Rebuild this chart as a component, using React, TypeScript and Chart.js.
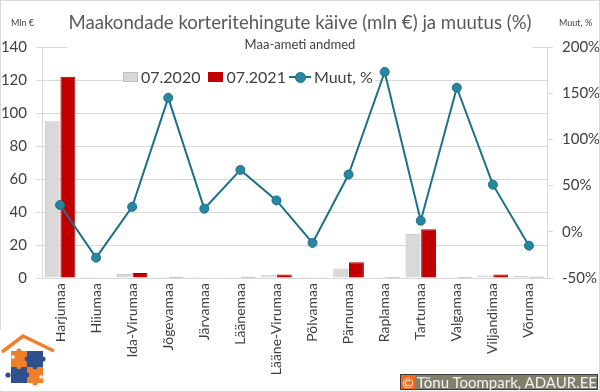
import React, { useEffect, useRef } from "react";
import { Chart, registerables } from "chart.js";

Chart.register(...registerables);

const categories = ["Harjumaa", "Hiiumaa", "Ida-Virumaa", "Jõgevamaa", "Järvamaa", "Läänemaa", "Lääne-Virumaa", "Põlvamaa", "Pärnumaa", "Raplamaa", "Tartumaa", "Valgamaa", "Viljandimaa", "Võrumaa"];
const turnover2020 = [95, 0.7, 2.6, 0.6, 0.7, 0.5, 1.6, 0.6, 5.8, 0.4, 26.8, 0.4, 1.5, 1.3];
const turnover2021 = [122, 0.4, 3.0, 0.8, 0.3, 0.8, 2.1, 0.4, 9.5, 0.6, 29.6, 0.6, 2.1, 0.8];
const changePct = [29, -28, 27, 145, 25, 67, 34, -12, 62, 173, 12, 156, 51, -15];

const label2020 = "07.2020";
const label2021 = "07.2021";
const labelChange = "Muut, %";

const FONT = "Lato, 'Open Sans', sans-serif";
const GRID = "#D9D9D9";
const GREY = "#D9D9D9";
const RED = "#C00000";
const TEAL = "#1B7189";
const TEAL_FILL = "#2A85A0";

function Logo() {
  return (
    <svg width={56} height={60} style={{ position: "absolute", left: 0, top: 330, background: "#fff" }} viewBox="0 0 56 60">
      <polyline points="2,22 23,6 54,21" fill="none" stroke="#F07F2A" strokeWidth={3.5} strokeLinejoin="miter" />
      <rect x={11} y={21} width={16} height={16} fill="#F07F2A" />
      <rect x={27} y={21} width={16} height={16} fill="#2F4F8F" />
      <rect x={11} y={37} width={16} height={16} fill="#2F4F8F" />
      <rect x={27} y={37} width={16} height={16} fill="#F07F2A" />
      <circle cx={19} cy={21} r={2.6} fill="#F07F2A" />
      <circle cx={43} cy={29} r={2.6} fill="#2F4F8F" />
      <circle cx={8} cy={45} r={2.6} fill="#2F4F8F" />
      <circle cx={35} cy={53} r={2.6} fill="#F07F2A" />
      <circle cx={27} cy={29} r={2.4} fill="#2F4F8F" />
      <circle cx={19} cy={37} r={2.4} fill="#F07F2A" />
      <circle cx={27} cy={45} r={2.4} fill="#2F4F8F" />
      <circle cx={35} cy={37} r={2.4} fill="#2F4F8F" />
      <circle cx={13} cy={27} r={1.8} fill="#fff" />
      <circle cx={41} cy={47} r={1.8} fill="#fff" />
    </svg>
  );
}

export default function App() {
  const canvasRef = useRef<HTMLCanvasElement | null>(null);

  useEffect(() => {
    if (!canvasRef.current) return;
    const chart = new Chart(canvasRef.current, {
      type: "bar",
      data: {
        labels: categories,
        datasets: [
          {
            type: "line",
            label: labelChange,
            data: changePct,
            yAxisID: "y1",
            borderColor: TEAL,
            borderWidth: 2,
            pointRadius: 4.5,
            pointBackgroundColor: TEAL_FILL,
            pointBorderColor: TEAL,
            pointBorderWidth: 1,
            tension: 0,
            order: 0,
          } as any,
          {
            type: "bar",
            label: label2020,
            data: turnover2020,
            yAxisID: "y",
            backgroundColor: GREY,
            borderColor: "#BFBFBF",
            borderWidth: 1,
            categoryPercentage: 0.87,
            barPercentage: 0.95,
            order: 1,
          },
          {
            type: "bar",
            label: label2021,
            data: turnover2021,
            yAxisID: "y",
            backgroundColor: RED,
            borderColor: "#A80000",
            borderWidth: 1,
            categoryPercentage: 0.87,
            barPercentage: 0.95,
            order: 1,
          },
        ],
      },
      options: {
        responsive: false,
        animation: false,
        layout: { padding: { top: 47, left: 0, right: 0, bottom: 0 } },
        plugins: { legend: { display: false }, title: { display: false }, tooltip: { enabled: false } },
        scales: {
          x: {
            grid: { display: false, drawTicks: false },
            border: { display: true, color: GRID },
            ticks: {
              maxRotation: 90,
              minRotation: 90,
              autoSkip: false,
              padding: 5,
              color: "#404040",
              font: { family: FONT, size: 14 },
            },
            afterFit: (s: any) => { s.height = 114; },
          },
          y: {
            position: "left",
            min: 0,
            max: 140,
            ticks: { stepSize: 20, padding: 9, color: "#404040", font: { family: FONT, size: 15 } },
            grid: { color: GRID, tickLength: 6, tickColor: GRID },
            border: { display: true, color: GRID },
            afterFit: (s: any) => { s.width = 42; },
          },
          y1: {
            position: "right",
            min: -50,
            max: 200,
            ticks: { stepSize: 50, padding: 9, color: "#404040", font: { family: FONT, size: 15 }, callback: (v: any) => v + "%" },
            grid: { drawOnChartArea: false, tickLength: 6, color: GRID },
            border: { display: true, color: GRID },
            afterFit: (s: any) => { s.width = 53; },
          },
        },
      },
    });
    return () => chart.destroy();
  }, []);

  const legendText: React.CSSProperties = { fontFamily: FONT, fontSize: 16, color: "#404040", lineHeight: "18px" };

  return (
    <div style={{ position: "fixed", left: 0, top: 0, width: 600, height: 392, background: "#fff", overflow: "hidden" }}>
      <canvas ref={canvasRef} width={600} height={392} style={{ position: "absolute", left: 0, top: 0 }} />
      <div style={{ position: "absolute", left: 0, top: 0, width: 598, height: 390, border: "1px solid #D9D9D9", pointerEvents: "none" }} />
      <div style={{ position: "absolute", left: 0, top: 10, width: 600, textAlign: "center", fontFamily: FONT, fontSize: 18.6, color: "#595959", lineHeight: "24px" }}>
        Maakondade korteritehingute käive (mln €) ja muutus (%)
      </div>
      <div style={{ position: "absolute", left: 67, top: 36, width: 465, height: 15, background: "#fff" }} />
      <div style={{ position: "absolute", left: 0, top: 35, width: 600, textAlign: "center", fontFamily: FONT, fontSize: 13, color: "#404040", lineHeight: "18px" }}>
        Maa-ameti andmed
      </div>
      <div style={{ position: "absolute", left: 11, top: 17, fontFamily: FONT, fontSize: 9, color: "#404040" }}>Mln €</div>
      <div style={{ position: "absolute", left: 559, top: 17, fontFamily: FONT, fontSize: 9, color: "#404040" }}>Muut, %</div>
      <div style={{ position: "absolute", left: 123, top: 68, display: "flex", alignItems: "center", background: "#fff", paddingRight: 2 }}>
        <span style={{ width: 15, height: 10, background: GREY, border: "1px solid #BFBFBF", boxSizing: "border-box", marginRight: 3 }} />
        <span style={legendText}>{label2020}</span>
        <span style={{ width: 15, height: 10, background: RED, marginLeft: 8, marginRight: 3 }} />
        <span style={legendText}>{label2021}</span>
        <span style={{ position: "relative", width: 22, height: 12, marginLeft: 3, marginRight: 3 }}>
          <span style={{ position: "absolute", left: 0, top: 5, width: 22, height: 2, background: TEAL }} />
          <span style={{ position: "absolute", left: 6, top: 1, width: 9, height: 9, borderRadius: 6, background: TEAL_FILL, border: `1px solid ${TEAL}` }} />
        </span>
        <span style={legendText}>{labelChange}</span>
      </div>
      <Logo />
      <div style={{ position: "absolute", left: 400, top: 374, width: 198, height: 16, boxSizing: "border-box", background: "#7F7F6C", border: "1px solid #3A3A3A", display: "flex", alignItems: "center", fontFamily: FONT, fontSize: 15, color: "#F2F2F2", whiteSpace: "nowrap" }}>
        <span style={{ background: "#F26A21", color: "#fff", width: 14, height: 14, display: "inline-flex", alignItems: "center", justifyContent: "center", marginRight: 2, fontSize: 14 }}>©</span>
        <span>Tõnu Toompark, ADAUR.EE</span>
      </div>
    </div>
  );
}
